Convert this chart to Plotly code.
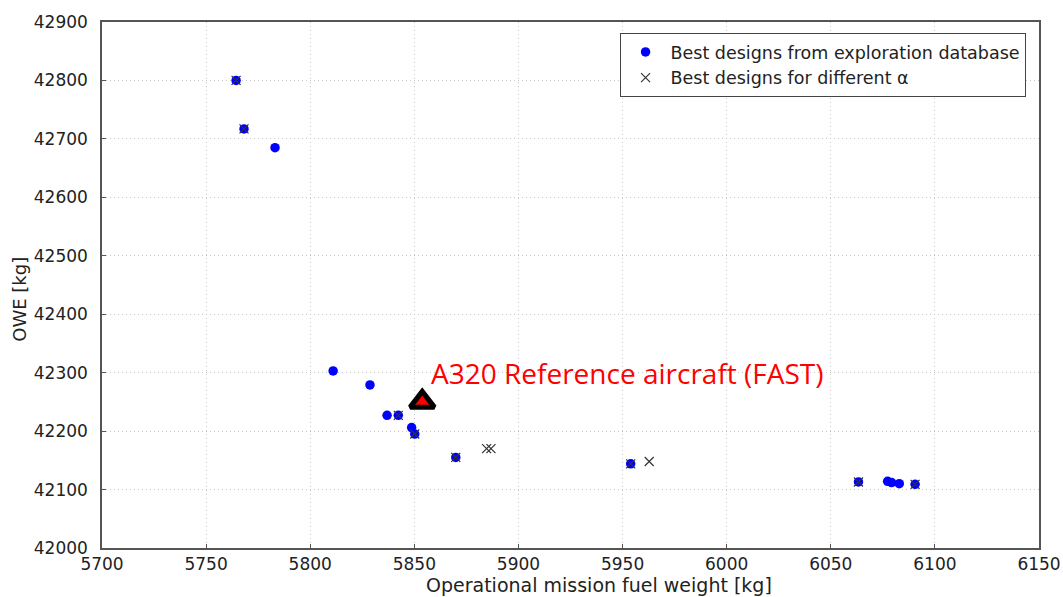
import plotly.graph_objects as go

# Best designs from exploration database (blue dots)
db_fuel = [5764.4, 5768.2, 5783.1, 5811.0, 5828.7, 5836.9, 5842.3, 5848.7, 5850.2,
           5869.9, 5953.9, 6063.3, 6077.3, 6079.2, 6082.9, 6090.5]
db_owe = [42800, 42717, 42685, 42303, 42279, 42227, 42227, 42206, 42195,
          42155, 42144, 42113, 42114, 42112, 42110, 42109]

# Best designs for different alpha (crosses)
alpha_fuel = [5764.4, 5768.2, 5842.3, 5850.2, 5869.9, 5884.7, 5886.8, 5953.9,
              5962.8, 6063.3, 6090.5]
alpha_owe = [42800, 42717, 42227, 42195, 42155, 42170, 42170, 42144, 42148,
             42113, 42109]

# Reference aircraft
ref_fuel = [5853.8]
ref_owe = [42250]
ref_label = "A320 Reference aircraft (FAST)"

x_title = "Operational mission fuel weight [kg]"
y_title = "OWE [kg]"

x_ticks = [5700, 5750, 5800, 5850, 5900, 5950, 6000, 6050, 6100, 6150]
y_ticks = [42000, 42100, 42200, 42300, 42400, 42500, 42600, 42700, 42800, 42900]

font_family = "DejaVu Sans"

fig = go.Figure()
fig.add_trace(go.Scatter(
    x=db_fuel, y=db_owe, mode="markers",
    name="Best designs from exploration database",
    marker=dict(symbol="circle", size=9.5, color="#0000ff", line=dict(width=0)),
))
fig.add_trace(go.Scatter(
    x=alpha_fuel, y=alpha_owe, mode="markers",
    name="Best designs for different \u03b1",
    marker=dict(symbol="x-thin-open", size=9, color="#333333",
                line=dict(width=1.2, color="#333333")),
))
fig.add_trace(go.Scatter(
    x=ref_fuel, y=ref_owe, mode="markers",
    showlegend=False,
    marker=dict(symbol="triangle-up", size=21, color="#ff0000",
                line=dict(width=5, color="#000000")),
))
fig.add_annotation(
    x=ref_fuel[0], y=ref_owe[0], text=ref_label, showarrow=False,
    xanchor="left", yanchor="middle", xshift=7, yshift=29,
    font=dict(family="Open Sans", size=28, color="#ff0000"),
)
# axis titles (placed as in the reference, slightly off-centre)
fig.add_annotation(
    x=0.5304, y=-0.0705, xref="paper", yref="paper", text=x_title,
    showarrow=False, xanchor="center", yanchor="middle",
    font=dict(family=font_family, size=19, color="#222222"),
)
fig.add_annotation(
    x=-0.0875, y=0.472, xref="paper", yref="paper", text=y_title,
    showarrow=False, xanchor="center", yanchor="middle", textangle=-90,
    font=dict(family=font_family, size=18, color="#222222"),
)

axis_common = dict(
    showline=True, linecolor="#555555", linewidth=1.5, mirror=True,
    showgrid=True, gridcolor="#c8c8c8", griddash="1px,3px", gridwidth=1,
    zeroline=False, ticks="inside", ticklen=4, tickcolor="#555555",
    tickfont=dict(family=font_family, size=17, color="#222222"),
    tickformat="d", automargin=False,
)

fig.update_layout(
    width=1063, height=597,
    margin=dict(l=102, r=24, t=22, b=49),
    paper_bgcolor="white", plot_bgcolor="white",
    font=dict(family=font_family, color="#222222"),
    xaxis=dict(range=[5700, 6150], tickvals=x_ticks, ticklabelstandoff=0,
               **axis_common),
    yaxis=dict(range=[42000, 42900], tickvals=y_ticks, ticklabelstandoff=9,
               **axis_common),
    legend=dict(x=0.769, y=0.979, xanchor="center", yanchor="top",
                bgcolor="white", bordercolor="#444444", borderwidth=1,
                font=dict(family=font_family, size=17.5, color="#222222"),
                itemwidth=40, tracegroupgap=0),
    showlegend=True,
)

fig.write_html(
    "out.html",
    config={"displayModeBar": False},
    post_script="document.body.style.margin='0';document.body.style.overflow='hidden';",
)
